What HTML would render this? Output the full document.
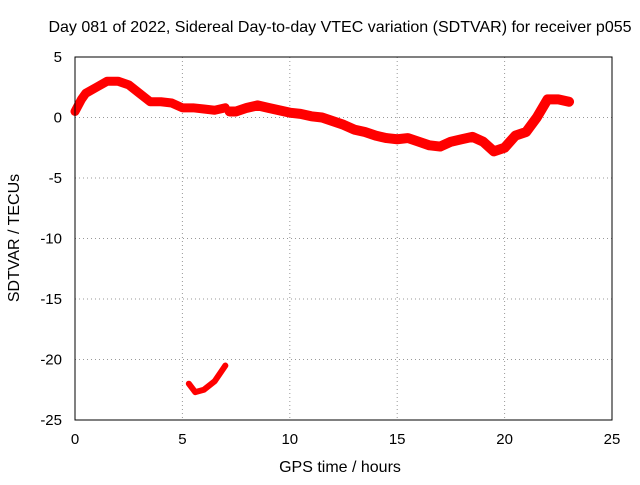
<!DOCTYPE html>
<html><head><meta charset="utf-8"><style>
body{margin:0;background:#fff;}
svg text{font-family:"Liberation Sans",sans-serif;font-size:15px;fill:#000;}
svg text.big{font-size:16px;}
</style></head><body>
<svg width="640" height="480" id="c">
<text class="big" x="340" y="32" text-anchor="middle">Day 081 of 2022, Sidereal Day-to-day VTEC variation (SDTVAR) for receiver p055</text>
<text class="big" x="340" y="472" text-anchor="middle">GPS time / hours</text>
<text class="big" transform="translate(19,238) rotate(-90)" text-anchor="middle">SDTVAR / TECUs</text>
<g id="grid"></g><g id="ticks"></g><g id="marks"></g>
<rect x="75" y="57" width="537" height="363" fill="none" stroke="#000"/>
</svg>
<script>
const xTicks=[0,5,10,15,20,25];
const yTicks=[5,0,-5,-10,-15,-20,-25];
const seg1T=[0,0.3,0.5,1,1.5,2,2.5,3,3.5,4,4.5,5,5.5,6,6.5,7];
const seg1V=[0.5,1.5,2,2.5,3,3,2.7,2,1.3,1.3,1.2,0.8,0.8,0.7,0.6,0.8];
const seg2T=[7.2,7.5,8,8.5,9,9.5,10,10.5,11,11.5,12,12.5,13,13.5,14,14.5,15,15.5,16,16.5,17,17.5,18,18.5,19,19.5,20,20.5,21,21.5,22,22.5,23];
const seg2V=[0.5,0.5,0.8,1,0.8,0.6,0.4,0.3,0.1,0,-0.3,-0.6,-1,-1.2,-1.5,-1.7,-1.8,-1.7,-2,-2.3,-2.4,-2,-1.8,-1.6,-2,-2.8,-2.5,-1.5,-1.2,0,1.5,1.5,1.3];
const seg3T=[5.3,5.6,6,6.5,7];
const seg3V=[-22,-22.7,-22.5,-21.8,-20.5];
const X=t=>75+t*537/25, Y=v=>57+(5-v)*363/30;
const NS="http://www.w3.org/2000/svg";
function mk(tag,attrs,parent){const e=document.createElementNS(NS,tag);for(const k in attrs)e.setAttribute(k,attrs[k]);document.getElementById(parent).appendChild(e);return e;}
xTicks.forEach(t=>{
 if(t>0&&t<25){const g=mk('line',{x1:X(t),x2:X(t),y1:57,y2:420,stroke:'#999','stroke-dasharray':'1,3'},'grid');
 
 }
 const l=mk('text',{x:X(t),y:444,'text-anchor':'middle'},'ticks');l.textContent=t;
 
 
});
yTicks.forEach(v=>{
 if(v<5&&v>-25){const g=mk('line',{x1:75,x2:612,y1:Y(v),y2:Y(v),stroke:'#999','stroke-dasharray':'1,3'},'grid');
 
 }
 const l=mk('text',{x:62,y:Y(v)+5,'text-anchor':'end'},'ticks');l.textContent=v;
 
 
});
[[seg1T,seg1V,9],[seg2T,seg2V,10],[seg3T,seg3V,6]].forEach(([T,V,w],i)=>{
 const p=mk('polyline',{points:T.map((t,j)=>X(t)+','+Y(V[j])).join(' '),fill:'none',stroke:'#f00','stroke-width':w,'stroke-linejoin':'round','stroke-linecap':'round'},'marks');
 
 
});
</script>
</body></html>
